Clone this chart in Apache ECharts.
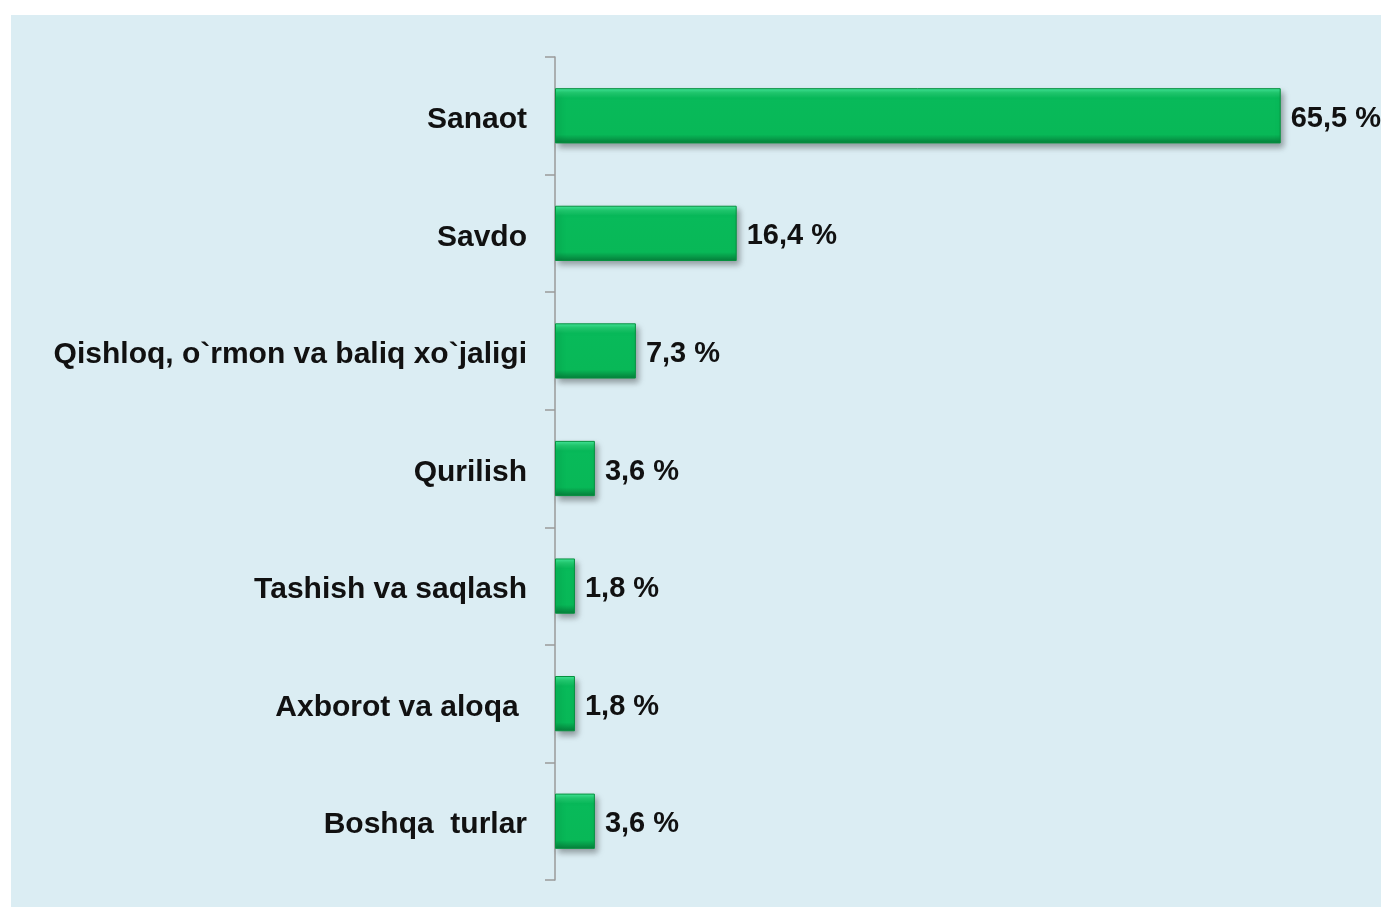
<!DOCTYPE html>
<html>
<head>
<meta charset="utf-8">
<script src="https://cdn.jsdelivr.net/npm/echarts@6/dist/echarts.min.js"></script>
<style>
  html, body { margin: 0; padding: 0; background: #ffffff; }
  #chart { position: absolute; left: 11px; top: 15px; width: 1370px; height: 892px; background: #dbedf3; }
</style>
</head>
<body>
<div id="chart"></div>
<script>
// tarmoqlar va ulushlar (%)
var categories = ['Sanaot', 'Savdo', 'Qishloq, o`rmon va baliq xo`jaligi', 'Qurilish', 'Tashish va saqlash', 'Axborot va aloqa ', 'Boshqa  turlar'];
var values = [65.5, 16.4, 7.3, 3.6, 1.8, 1.8, 3.6];

var chart = echarts.init(document.getElementById('chart'));

var barColor = new echarts.graphic.LinearGradient(0, 0, 0, 1, [
    {offset: 0, color: '#45ea9c'},
    {offset: 0.08, color: '#22cf72'},
    {offset: 0.18, color: '#08ba5a'},
    {offset: 0.84, color: '#08b857'},
    {offset: 0.9, color: '#07a24c'},
    {offset: 1, color: '#067f3b'}
]);

var option = {
    animation: false,
    grid: {
        left: 544,
        right: 0,
        top: 42,
        bottom: 27,
        containLabel: false
    },
    xAxis: {
        type: 'value',
        min: 0,
        max: 74.55,
        show: false
    },
    yAxis: {
        type: 'category',
        inverse: true,
        data: categories,
        axisLine: {lineStyle: {color: '#9a9a9a', width: 1.5}},
        axisTick: {show: true, length: 10, lineStyle: {color: '#9a9a9a', width: 1.5}},
        axisLabel: {
            margin: 28,
            formatter: '{t|{value}}',
            rich: {
                t: {
                    color: '#111111',
                    fontFamily: 'Liberation Sans, Arial, sans-serif',
                    fontWeight: 'bold',
                    fontSize: 30,
                    padding: [8, 0, 0, 0]
                }
            }
        }
    },
    series: [
        {
            type: 'bar',
            data: values,
            barCategoryGap: '53%',
            itemStyle: {
                color: barColor,
                borderColor: '#06913f',
                borderWidth: 1,
                shadowColor: 'rgba(0,0,0,0.35)',
                shadowBlur: 6,
                shadowOffsetX: 3,
                shadowOffsetY: 4
            },
            label: {
                show: true,
                position: 'right',
                distance: 10,
                offset: [0, 3],
                color: '#111111',
                fontFamily: 'Liberation Sans, Arial, sans-serif',
                fontWeight: 'bold',
                fontSize: 29,
                formatter: function (p) {
                    return p.value.toFixed(1).replace('.', ',') + ' %';
                }
            }
        }
    ]
};

chart.setOption(option);
</script>
</body>
</html>
